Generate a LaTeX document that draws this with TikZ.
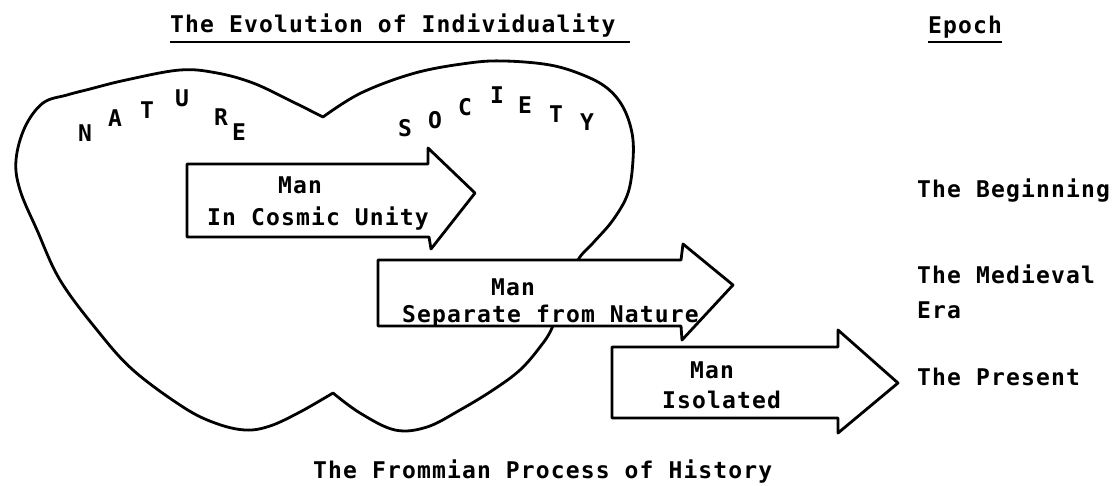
\documentclass[tikz,border=0pt]{standalone}
\usepackage{fontspec}
\newfontfamily\tw[LetterSpace=5]{DejaVu Sans Mono Bold}
\usetikzlibrary{calc}
\begin{document}
\begin{tikzpicture}[x=1pt,y=-1pt,
  outline/.style={line width=2.8pt, line join=round, line cap=round},
  arrowbox/.style={outline, fill=white},
  txt/.style={font=\tw\fontsize{23}{28}\selectfont, inner sep=0pt, anchor=base west},
  ctxt/.style={txt, anchor=base},
  uline/.style={line width=1.8pt}]
\useasboundingbox (0,0) rectangle (1114,485);
% the heart-shaped outline (Nature / Society)
\draw[outline] plot[smooth, tension=0.6] coordinates {(323,117) (361,93) (415,73) (469,63) (505,61) (550,65) (583,75) (607,88) (623,107) (632,133) (633,160) (628,193) (613,220) (593,243) (578,260) (564,293) (552,328) (540,347) (520,370) (493,390) (460,410) (427,427) (395,430) (360,413) (333,393)}
  -- plot[smooth, tension=0.6] coordinates {(333,393) (300,412) (270,426) (245,430) (215,423) (183,407) (133,370) (97,330) (60,280) (37,230) (20,190) (16,160) (25,127) (43,103) (67,95) (90,89) (126,80) (180,70) (217,73) (253,83) (289,100) (323,117)} -- cycle;
% letters
\foreach \l/\x/\y/\n in {N/85/133/n1, A/115/118/n2, T/147/110/n3, U/182/98/n4, R/221/117/n5, E/239/132/n6,
  S/405/128/s1, O/435/120/s2, C/465/107/s3, I/497/95/s4, E/525/105/s5, T/556/114/s6, Y/587/122/s7}
  \node[txt, anchor=center] (\n) at (\x,\y) {\l};
% arrows
\draw[arrowbox] (187,164) -- (428,164) -- (428,148) -- (475,193) -- (431,249) -- (429,237) -- (187,237) -- cycle;
\draw[arrowbox] (378,260) -- (681,260) -- (683,244) -- (733,285) -- (682,340) -- (681,326) -- (378,326) -- cycle;
\draw[arrowbox] (612,347) -- (838,347) -- (838,330) -- (898,383) -- (838,433) -- (838,418) -- (612,418) -- cycle;
% arrow texts
\node[ctxt] (m1) at (300,193) {Man};
\node[txt] (t1) at (207,225) {In Cosmic Unity};
\node[ctxt] (m2) at (513,295) {Man};
\node[txt] (t2) at (402,322) {Separate from Nature};
\node[ctxt] (m3) at (712,378) {Man};
\node[txt] (t3) at (662,408) {Isolated};
% headings
\node[txt] (title) at (170,32) {The Evolution of Individuality};
\draw[uline] (170,42) -- (630,42);
\node[txt] (epoch) at (928,33) {Epoch};
\draw[uline] (928,42) -- (1002,42);
% epochs
\node[txt] (e1) at (917,197) {The Beginning};
\node[txt] (e2) at (917,283) {The Medieval};
\node[txt] (e2b) at (917,318) {Era};
\node[txt] (e3) at (917,385) {The Present};
% caption
\node[txt] (cap) at (313,478) {The Frommian Process of History};
\end{tikzpicture}
\end{document}
